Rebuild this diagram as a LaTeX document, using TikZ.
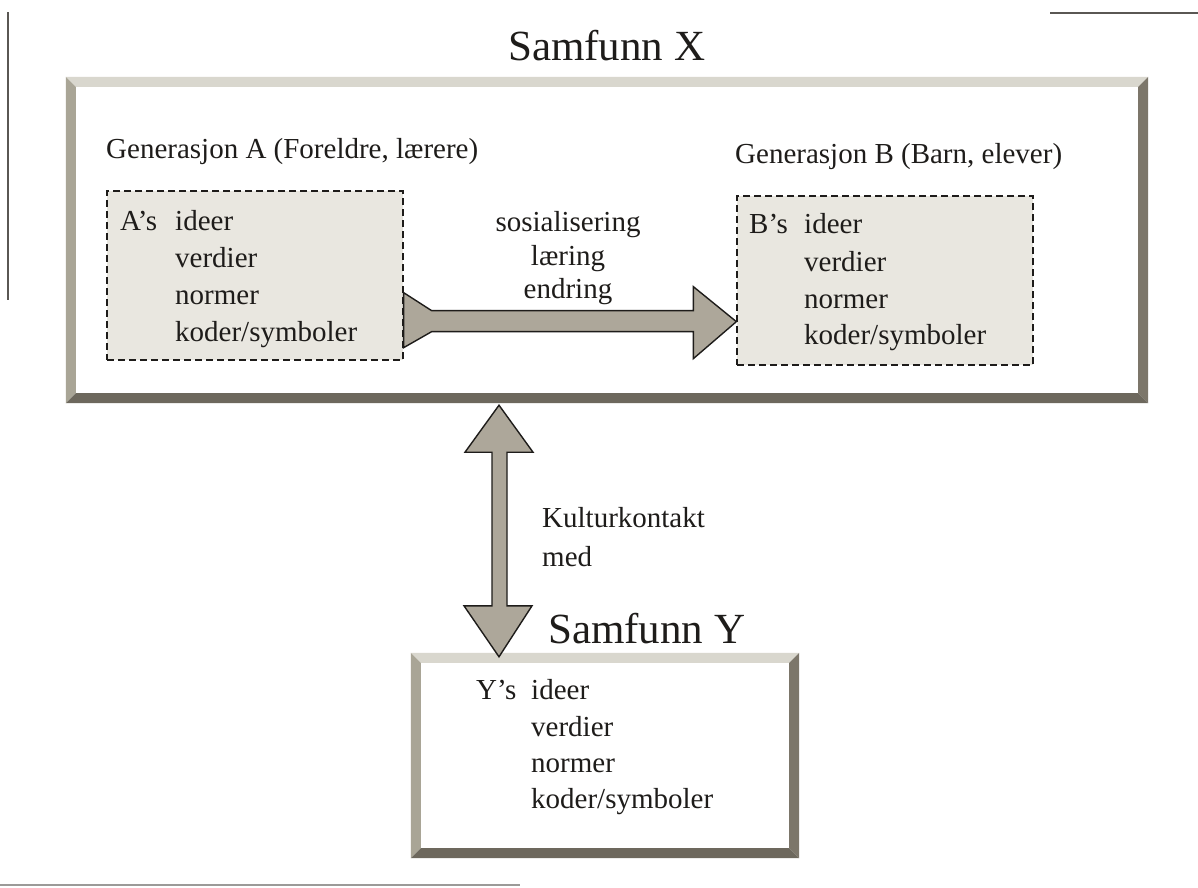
\documentclass[tikz,border=0pt]{standalone}
\usepackage{fontspec}
\setmainfont{Liberation Serif}
\usetikzlibrary{calc}
\definecolor{ink}{HTML}{1E1C1A}
\definecolor{bevtop}{HTML}{D9D7CE}
\definecolor{bevleft}{HTML}{A9A596}
\definecolor{bevright}{HTML}{7C766A}
\definecolor{bevbot}{HTML}{6D685D}
\definecolor{dashfill}{HTML}{E9E7E0}
\definecolor{arrowfill}{HTML}{ADA79A}
\definecolor{scan}{HTML}{5A5753}
\newcommand\bevelframe[2]{%
  \fill[bevtop] (#1.north west) -- (#1.north east) -- ($(#1.north east)+(-#2,#2)$) -- ($(#1.north west)+(#2,#2)$) -- cycle;
  \fill[bevleft] (#1.north west) -- ($(#1.north west)+(#2,#2)$) -- ($(#1.south west)+(#2,-#2)$) -- (#1.south west) -- cycle;
  \fill[bevright] (#1.north east) -- (#1.south east) -- ($(#1.south east)+(-#2,-#2)$) -- ($(#1.north east)+(-#2,#2)$) -- cycle;
  \fill[bevbot] (#1.south west) -- (#1.south east) -- ($(#1.south east)+(-#2,-#2)$) -- ($(#1.south west)+(#2,-#2)$) -- cycle;
}
\begin{document}
\begin{tikzpicture}[x=1pt,y=-1pt,
  txt/.style={anchor=base west, inner sep=0pt, text=ink, font=\fontsize{29}{34}\selectfont},
  ctxt/.style={anchor=base, inner sep=0pt, text=ink, font=\fontsize{29}{34}\selectfont},
  titletxt/.style={anchor=base west, inner sep=0pt, text=ink, font=\fontsize{43}{50}\selectfont},
  frame/.style={rectangle, fill=white, inner sep=0pt, draw=none},
  dbox/.style={rectangle, fill=dashfill, draw=ink, dash pattern=on 7pt off 4pt, line width=1.3pt, inner sep=0pt},
  fat/.style={fill=arrowfill, draw=ink, line width=1.4pt, line join=miter}]
\useasboundingbox (0,0) rectangle (1198,887);
\fill[white] (0,0) rectangle (1198,887);

% scan edges
\draw[scan, line width=1.4pt] (8,12) -- (8,300);
\draw[scan, line width=1.4pt] (1050,13) -- (1198,13);
\draw[scan!60, line width=1.4pt] (0,885) -- (520,885);

% Samfunn X frame
\node[frame, minimum width=1082pt, minimum height=326pt] (X) at (607,240) {};
\bevelframe{X}{10}
\node[titletxt] (Xt) at (508,60) {Samfunn X};

\node[txt] (GA) at (106,158) {Generasjon A (Foreldre, lærere)};
\node[txt] (GB) at (735,163) {Generasjon B (Barn, elever)};

% dashed boxes
\node[dbox, minimum width=296pt, minimum height=169pt] (A) at (255,275.5) {};
\node[dbox, minimum width=296pt, minimum height=169pt] (B) at (885,280.5) {};

\node[txt] (As) at (120,230) {A’s};
\node[txt] (A1) at (175,230) {ideer};
\node[txt] (A2) at (175,267) {verdier};
\node[txt] (A3) at (175,304) {normer};
\node[txt] (A4) at (175,341) {koder/symboler};

\node[txt] (Bs) at (749,233) {B’s};
\node[txt] (B1) at (804,233) {ideer};
\node[txt] (B2) at (804,271) {verdier};
\node[txt] (B3) at (804,308) {normer};
\node[txt] (B4) at (804,344) {koder/symboler};

% horizontal arrow
\coordinate (t) at ($(A.south east)+(0,-39)$);
\coordinate (h) at (B.west |- t);
\draw[fat] ($(t)+(0,-29)$) -- ($(t)+(28,-11)$) -- ($(h)+(-43,-11)$) -- ($(h)+(-43,-35)$) -- (h)
  -- ($(h)+(-43,37)$) -- ($(h)+(-43,10)$) -- ($(t)+(28,10)$) -- ($(t)+(0,26)$) -- cycle;
\node[ctxt] (L1) at (568,231) {sosialisering};
\node[ctxt] (L2) at (568,265) {læring};
\node[ctxt] (L3) at (568,298) {endring};

% Samfunn Y frame
\node[frame, minimum width=388pt, minimum height=205pt] (Y) at (605,755.5) {};
\bevelframe{Y}{10}
\node[titletxt] (Yt) at (548,643) {Samfunn Y};

\node[txt] (Ys) at (476,699) {Y’s};
\node[txt] (Y1) at (531,699) {ideer};
\node[txt] (Y2) at (531,736) {verdier};
\node[txt] (Y3) at (531,772) {normer};
\node[txt] (Y4) at (531,808) {koder/symboler};

% vertical double arrow
\coordinate (vx) at (499,0);
\coordinate (vt) at (vx |- X.south);
\coordinate (vb) at (vx |- Y.north);
\draw[fat] ($(vt)+(0,2)$) -- ($(vt)+(34,49)$) -- ($(vt)+(8,49)$) -- ($(vb)+(8,-47)$) -- ($(vb)+(33,-47)$)
  -- ($(vb)+(0,4)$) -- ($(vb)+(-35,-47)$) -- ($(vb)+(-7,-47)$) -- ($(vt)+(-7,49)$) -- ($(vt)+(-34,49)$) -- cycle;
\node[txt] (K1) at (542,527) {Kulturkontakt};
\node[txt] (K2) at (542,566) {med};
\end{tikzpicture}
\end{document}
